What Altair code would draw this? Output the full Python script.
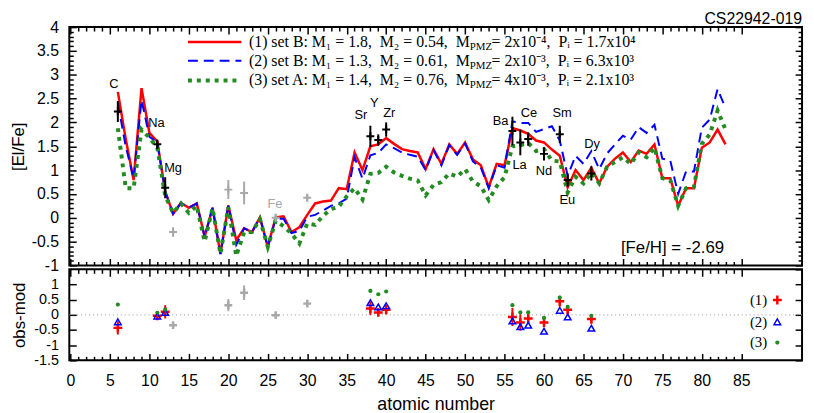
import altair as alt
import pandas as pd

# ---------------- data ----------------
Z = list(range(6, 84))
model1 = [2.64, 1.65, 0.79, 2.72, 1.78, 1.60, 0.55, 0.08, 0.31, 0.21,
          0.30, -0.40, 0.21, -0.76, 0.26, -0.47, -0.22, -0.30, 0.01, -0.61,
          0.01, 0.03, -0.30, -0.20, 0.06, 0.30, 0.34, 0.36, 0.62, 0.60,
          1.37, 1.00, 1.50, 1.54, 1.67, 1.55, 1.44, 1.40, 1.37, 1.02,
          1.44, 1.13, 1.54, 1.34, 1.58, 1.22, 1.10, 0.64, 1.13, 1.10,
          1.88, 1.83, 1.76, 1.62, 1.58, 1.43, 1.30, 0.64, 1.00, 0.79,
          1.05, 0.72, 1.07, 1.24, 1.37, 1.17, 1.41, 1.34, 1.54, 0.83,
          0.83, 0.25, 0.62, 0.62, 1.47, 1.58, 1.85, 1.54]
model2 = [2.40, 1.50, 0.82, 2.47, 1.70, 1.58, 0.55, 0.08, 0.31, 0.21,
          0.30, -0.40, 0.21, -0.76, 0.26, -0.57, -0.22, -0.30, 0.01, -0.61,
          -0.02, -0.02, -0.32, -0.28, 0.02, 0.06, 0.15, 0.25, 0.30, 0.40,
          1.27, 0.82, 1.31, 1.36, 1.54, 1.46, 1.37, 1.32, 1.28, 1.00,
          1.42, 1.10, 1.52, 1.32, 1.56, 1.18, 1.05, 0.62, 1.10, 1.05,
          2.02, 1.99, 1.99, 1.80, 1.86, 1.92, 1.62, 0.88, 1.30, 1.13,
          1.40, 1.02, 1.35, 1.54, 1.72, 1.64, 1.90, 1.78, 1.95, 1.24,
          1.20, 0.50, 0.97, 0.97, 1.89, 2.06, 2.70, 2.30]
model3 = [1.88, 0.62, 0.62, 1.85, 1.68, 1.47, 0.46, 0.10, 0.30, 0.10,
          0.25, -0.50, 0.20, -0.76, 0.22, -0.80, -0.30, -0.30, -0.03, -0.61,
          -0.06, -0.18, -0.33, -0.54, -0.12, -0.15, 0.04, 0.18, 0.23, 0.45,
          0.62, 0.38, 0.92, 0.94, 1.07, 0.95, 0.88, 0.82, 0.78, 0.47,
          0.69, 0.75, 0.93, 0.86, 1.02, 0.76, 0.66, 0.37, 0.66, 0.85,
          1.50, 1.52, 1.57, 1.40, 1.44, 1.20, 1.18, 0.53, 0.86, 0.72,
          0.95, 0.72, 1.07, 1.17, 1.27, 1.13, 1.37, 1.27, 1.47, 0.83,
          0.79, 0.25, 0.62, 0.65, 1.55, 1.75, 2.25, 1.85]

obs_el = ["C", "Na", "Mg", "Sr", "Y", "Zr", "Ba", "La", "Ce", "Nd", "Sm", "Eu", "Dy"]
obs_Z = [6, 11, 12, 38, 39, 40, 56, 57, 58, 60, 62, 63, 66]
obs_val = [2.23, 1.54, 0.63, 1.71, 1.63, 1.85, 1.82, 1.58, 1.65, 1.34, 1.75, 0.79, 0.93]
obs_err = [0.22, 0.10, 0.22, 0.22, 0.12, 0.15, 0.30, 0.27, 0.14, 0.14, 0.18, 0.14, 0.15]
res1 = [-0.43, -0.03, 0.10, 0.21, 0.08, 0.17, -0.07, -0.25, -0.12, -0.25, 0.45, 0.17, -0.14]
res2 = [-0.23, -0.04, 0.08, 0.40, 0.26, 0.30, -0.20, -0.39, -0.34, -0.54, 0.15, -0.07, -0.44]
res3 = [0.34, 0.07, 0.17, 0.79, 0.68, 0.77, 0.32, 0.08, 0.08, -0.10, 0.57, 0.26, -0.03]

unc_el = ["Al", "Ca", "Ti", "Fe", "Zn"]
unc_Z = [13, 20, 22, 26, 30]
unc_val = [-0.30, 0.59, 0.52, 0.00, 0.42]
unc_err = [0.10, 0.20, 0.24, 0.08, 0.08]
unc_res = [-0.34, 0.32, 0.73, -0.01, 0.37]

lab_text = ["C", "Na", "Mg", "Sr", "Y", "Zr", "Ba", "La", "Ce", "Nd", "Sm", "Eu", "Dy"]
lab_Z = [5.5, 10.9, 13.0, 36.8, 38.5, 40.4, 54.5, 56.9, 58.1, 60.0, 62.3, 62.95, 66.1]
lab_v = [2.81, 1.99, 1.05, 2.16, 2.40, 2.19, 2.02, 1.10, 2.19, 0.97, 2.19, 0.38, 1.54]
unc_lab_text = ["Fe"]
unc_lab_Z = [25.9]
unc_lab_v = [0.28]

leg_a = ["(1) set B: M\u2081 = 1.8, \u00a0M\u2082 = 0.54, \u00a0M",
         "(2) set B: M\u2081 = 1.3, \u00a0M\u2082 = 0.61, \u00a0M",
         "(3) set A: M\u2081 = 1.4, \u00a0M\u2082 = 0.76, \u00a0M"]
leg_sub = "PMZ"
leg_c = ["= 2x10\u207b\u2074, \u00a0P\u1d62 = 1.7x10\u2074",
         "= 2x10\u207b\u00b3, \u00a0P\u1d62 = 6.3x10\u00b3",
         "= 4x10\u207b\u00b3, \u00a0P\u1d62 = 2.1x10\u00b3"]
feh_text = "[Fe/H] = -2.69"
star_name = "CS22942-019"

# ---------------- styling ----------------
FONT = "Liberation Sans"
SERIF = "Liberation Serif"
RED, BLUE, GREEN, GRAY = "#ff0000", "#0000ff", "#228b22", "#a8a8a8"
W, H1, H2 = 741, 241, 92
XDOM = [-0.15, 92.7]
PLUS = "M-1,0L1,0M0,-1L0,1"

xs = alt.Scale(domain=XDOM, nice=False, zero=False)
ys1 = alt.Scale(domain=[-1, 4], nice=False, zero=False)
ys2 = alt.Scale(domain=[-1.5, 1.5], nice=False, zero=False)

xmaj = list(range(0, 86, 5))
xmin = [i for i in range(0, 86) if i % 5]
y1maj = [-1 + 0.5 * i for i in range(11)]
y1min = [round(-1 + 0.1 * i, 1) for i in range(51) if i % 5]
y2maj = [-1.5 + 0.5 * i for i in range(7)]

LAB = dict(labelFont=FONT, labelColor="black",
           labelExpr="'' + datum.value", labelFlush=False, labelOverlap=False)
TIT = dict(titleFont=FONT, titleFontWeight="normal", titleColor="black")


def axis(orient, values, size, labels=False, **kw):
    return alt.Axis(orient=orient, values=values, tickSize=size, offset=-size,
                    labels=labels, domain=False, grid=False, tickColor="black",
                    tickWidth=1.5, **kw)


def axis_layer(ys, ydom, xax, yax, xtitle=None, ytitle=None):
    d = pd.DataFrame({"Z": XDOM, "v": ydom})
    return alt.Chart(d).mark_point(opacity=0).encode(
        x=alt.X("Z:Q", scale=xs, axis=xax, title=xtitle),
        y=alt.Y("v:Q", scale=ys, axis=yax, title=ytitle))


df0 = pd.DataFrame({"k": [0]})
lines = pd.DataFrame({"Z": Z, "m1": model1, "m2": model2, "m3": model3})
obs = pd.DataFrame({"Z": obs_Z, "v": obs_val, "err": obs_err,
                    "r1": res1, "r2": res2, "r3": res3})
obs["lo"] = obs["v"] - obs["err"]
obs["hi"] = obs["v"] + obs["err"]
obs["r1lo"] = obs["r1"] - obs["err"]
obs["r1hi"] = obs["r1"] + obs["err"]
unc = pd.DataFrame({"Z": unc_Z, "v": unc_val, "err": unc_err, "r": unc_res})
unc["lo"] = unc["v"] - unc["err"]
unc["hi"] = unc["v"] + unc["err"]
unc["rlo"] = unc["r"] - unc["err"]
unc["rhi"] = unc["r"] + unc["err"]
labs = pd.DataFrame({"Z": lab_Z, "v": lab_v, "t": lab_text})
ulabs = pd.DataFrame({"Z": unc_lab_Z, "v": unc_lab_v, "t": unc_lab_text})

X = alt.X("Z:Q", scale=xs, axis=None)


def Y1(f):
    return alt.Y(f, scale=ys1, axis=None)


def Y2(f):
    return alt.Y(f, scale=ys2, axis=None)


# ---------------- top panel ----------------
top_layers = [
    axis_layer(ys1, [-1, 4], axis("bottom", xmaj, 7),
               axis("left", y1maj, 7, labels=True, labelPadding=11, labelFontSize=16,
                    titleFontSize=17, titlePadding=3.5, **LAB, **TIT),
               ytitle="[El/Fe]"),
    axis_layer(ys1, [-1, 4], axis("top", xmaj, 7), axis("right", y1maj, 7)),
    axis_layer(ys1, [-1, 4], axis("bottom", xmin, 4), axis("left", y1min, 4)),
    axis_layer(ys1, [-1, 4], axis("top", xmin, 4), axis("right", y1min, 4)),
    alt.Chart(lines).mark_line(color=RED, strokeWidth=2.5).encode(x=X, y=Y1("m1:Q")),
    alt.Chart(lines).mark_line(color=BLUE, strokeWidth=2, strokeDash=[10, 6]).encode(x=X, y=Y1("m2:Q")),
    alt.Chart(lines).mark_line(color=GREEN, strokeWidth=4, strokeDash=[4, 5], strokeCap="butt").encode(x=X, y=Y1("m3:Q")),
    alt.Chart(unc).mark_rule(color=GRAY, strokeWidth=2).encode(x=X, y=Y1("lo:Q"), y2="hi:Q"),
    alt.Chart(unc).mark_point(shape=PLUS, size=64, filled=False, color=GRAY, strokeWidth=2, opacity=1).encode(x=X, y=Y1("v:Q")),
    alt.Chart(obs).mark_rule(color="black", strokeWidth=2).encode(x=X, y=Y1("lo:Q"), y2="hi:Q"),
    alt.Chart(obs).mark_point(shape=PLUS, size=64, filled=False, color="black", strokeWidth=2, opacity=1).encode(x=X, y=Y1("v:Q")),
    alt.Chart(labs).mark_text(font=FONT, fontSize=13, color="black").encode(x=X, y=Y1("v:Q"), text="t:N"),
    alt.Chart(ulabs).mark_text(font=FONT, fontSize=13, color=GRAY).encode(x=X, y=Y1("v:Q"), text="t:N"),
    alt.Chart(df0).mark_text(text=feh_text, font=FONT, fontSize=17, color="black").encode(
        x=alt.value(610), y=alt.value(223)),
    alt.Chart(df0).mark_text(text=star_name, font=FONT, fontSize=16, color="black",
                             align="right", baseline="alphabetic").encode(
        x=alt.value(W), y=alt.value(-3)),
    alt.Chart(df0).mark_rule(color=RED, strokeWidth=2.5).encode(
        x=alt.value(120), x2=alt.value(174), y=alt.value(15)),
    alt.Chart(df0).mark_rule(color=BLUE, strokeWidth=2, strokeDash=[10, 6]).encode(
        x=alt.value(120), x2=alt.value(174), y=alt.value(34)),
    alt.Chart(df0).mark_rule(color=GREEN, strokeWidth=4, strokeDash=[4, 5], strokeCap="butt").encode(
        x=alt.value(120), x2=alt.value(174), y=alt.value(54)),
]
for i, yy in enumerate([15, 34, 54]):
    top_layers.append(alt.Chart(df0).mark_text(
        text=leg_a[i], font=SERIF, fontSize=16, color="black", align="right",
        baseline="middle").encode(x=alt.value(405), y=alt.value(yy)))
    top_layers.append(alt.Chart(df0).mark_text(
        text=leg_sub, font=SERIF, fontSize=11, color="black", align="left",
        baseline="middle").encode(x=alt.value(405), y=alt.value(yy + 5)))
    top_layers.append(alt.Chart(df0).mark_text(
        text=leg_c[i], font=SERIF, fontSize=16, color="black", align="left",
        baseline="middle").encode(x=alt.value(427), y=alt.value(yy)))

top = alt.layer(*top_layers).resolve_axis(x="independent", y="independent").properties(
    width=W, height=H1)

# ---------------- bottom panel ----------------
zero = pd.DataFrame({"y": [0]})
bot_layers = [
    axis_layer(ys2, [-1.5, 1.5],
               axis("bottom", xmaj, 7, labels=True, labelPadding=12, labelFontSize=16,
                    titleFontSize=18, titlePadding=8, **LAB, **TIT),
               axis("left", y2maj[:-1], 7, labels=True, labelPadding=11, labelFontSize=14.5,
                    titleFontSize=17, titlePadding=5.5, **LAB, **TIT),
               xtitle="atomic number", ytitle="obs-mod"),
    axis_layer(ys2, [-1.5, 1.5], axis("top", xmaj, 7), axis("right", y2maj, 7)),
    axis_layer(ys2, [-1.5, 1.5], axis("bottom", xmin, 4), None),
    axis_layer(ys2, [-1.5, 1.5], axis("top", xmin, 4), None),
    alt.Chart(zero).mark_rule(color="#999999", strokeWidth=1, strokeDash=[1, 3]).encode(y=Y2("y:Q")),
    alt.Chart(unc).mark_rule(color=GRAY, strokeWidth=2).encode(x=X, y=Y2("rlo:Q"), y2="rhi:Q"),
    alt.Chart(unc).mark_point(shape=PLUS, size=64, filled=False, color=GRAY, strokeWidth=2.5, opacity=1).encode(x=X, y=Y2("r:Q")),
    alt.Chart(obs).mark_rule(color=RED, strokeWidth=2).encode(x=X, y=Y2("r1lo:Q"), y2="r1hi:Q"),
    alt.Chart(obs).mark_point(shape=PLUS, size=81, filled=False, color=RED, strokeWidth=2.5, opacity=1).encode(x=X, y=Y2("r1:Q")),
    alt.Chart(obs).mark_point(shape="triangle-up", size=45, filled=False, color=BLUE, strokeWidth=1.5, opacity=1).encode(x=X, y=Y2("r2:Q")),
    alt.Chart(obs).mark_point(shape="circle", size=18, filled=True, color=GREEN, opacity=1).encode(x=X, y=Y2("r3:Q")),
]
for i, (yy, lab) in enumerate(zip([31, 53, 74], ["(1)", "(2)", "(3)"])):
    bot_layers.append(alt.Chart(df0).mark_text(
        text=lab, font=SERIF, fontSize=15, color="black", align="center",
        baseline="middle").encode(x=alt.value(697), y=alt.value(yy)))
bot_layers += [
    alt.Chart(df0).mark_point(shape=PLUS, size=81, filled=False, color=RED, strokeWidth=2.5, opacity=1).encode(
        x=alt.value(716), y=alt.value(31)),
    alt.Chart(df0).mark_point(shape="triangle-up", size=45, filled=False, color=BLUE, strokeWidth=1.5, opacity=1).encode(
        x=alt.value(716), y=alt.value(53)),
    alt.Chart(df0).mark_point(shape="circle", size=18, filled=True, color=GREEN, opacity=1).encode(
        x=alt.value(716), y=alt.value(74)),
]

bottom = alt.layer(*bot_layers).resolve_axis(x="independent", y="independent").properties(
    width=W, height=H2)

chart = alt.vconcat(top, bottom, spacing=4, bounds="flush").properties(
    padding={"left": 0, "top": 0, "right": 0, "bottom": 0},
    background="white",
).configure_view(stroke="black", strokeWidth=2)

chart.save("out.html", embed_options={"renderer": "svg", "actions": False})
